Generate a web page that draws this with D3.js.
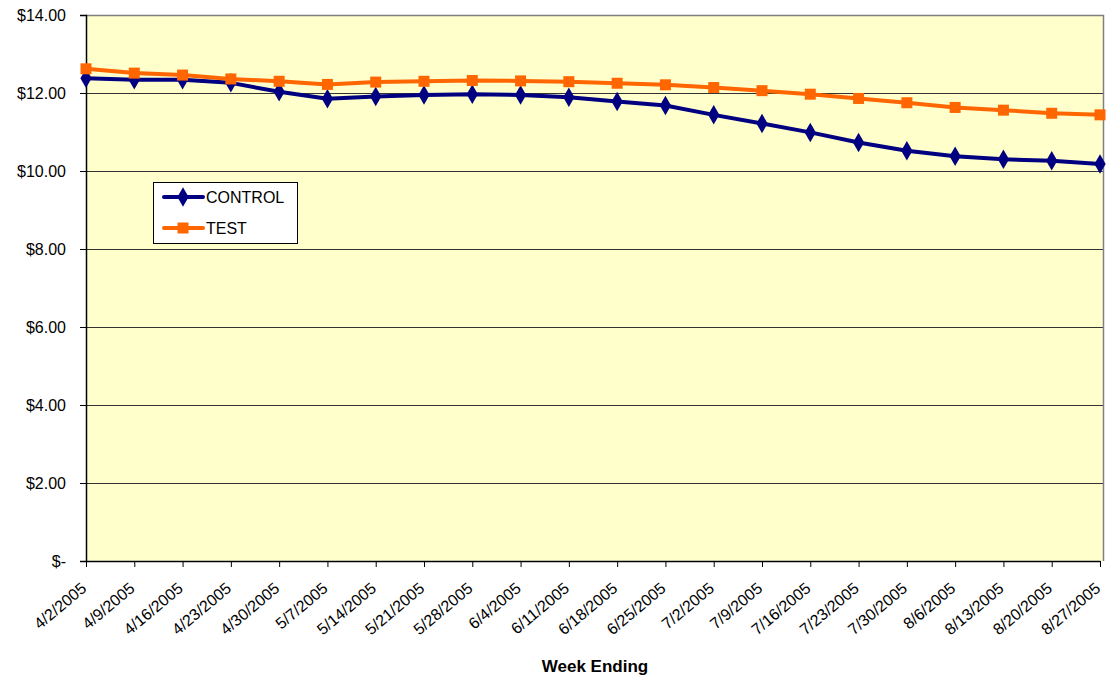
<!DOCTYPE html>
<html><head><meta charset="utf-8">
<script src="https://cdn.jsdelivr.net/npm/d3@7"></script>
<style>body{margin:0;background:#fff}svg{display:block}text{font-family:"Liberation Sans",Arial,sans-serif}</style>
</head><body><svg id="c" width="1111" height="688"></svg>
<script>
const weeks = ["4/2/2005","4/9/2005","4/16/2005","4/23/2005","4/30/2005","5/7/2005","5/14/2005","5/21/2005","5/28/2005","6/4/2005","6/11/2005","6/18/2005","6/25/2005","7/2/2005","7/9/2005","7/16/2005","7/23/2005","7/30/2005","8/6/2005","8/13/2005","8/20/2005","8/27/2005"];
const control = [12.38,12.34,12.34,12.26,12.03,11.85,11.91,11.95,11.97,11.95,11.89,11.78,11.68,11.44,11.22,10.99,10.73,10.52,10.38,10.30,10.26,10.18];
const test = [12.62,12.51,12.46,12.36,12.30,12.22,12.28,12.30,12.32,12.31,12.29,12.25,12.21,12.14,12.06,11.97,11.86,11.75,11.63,11.56,11.48,11.44];
const yTicks = [0,2,4,6,8,10,12,14];
const seriesNames = ["CONTROL","TEST"];

const svg = d3.select("#c");
const L=86, R=1100, T=15, B=561;
const x = d3.scalePoint().domain(weeks).range([L,R]);
const y = d3.scaleLinear().domain([0,14]).range([B,T]);

// plot area
svg.append("rect").attr("x",L).attr("y",T).attr("width",1103-L).attr("height",B-T).attr("fill","#FFFFCC");
// gridlines
svg.append("g").selectAll("line").data(yTicks.filter(d=>d>0&&d<14)).join("line")
  .attr("x1",L).attr("x2",1103).attr("y1",d=>y(d)+0.5).attr("y2",d=>y(d)+0.5)
  .attr("stroke","#333").attr("stroke-width",1);
// borders top/right
svg.append("path").attr("d",`M${L},${T+0.5}H1103.5V${B}`).attr("fill","none").attr("stroke","#808080").attr("stroke-width",1.5);

// y axis
const fmt = d => d===0 ? "$-" : "$"+d.toFixed(2);
const ya = svg.append("g").attr("transform",`translate(${L},0)`)
  .call(d3.axisLeft(y).tickValues(yTicks).tickFormat(fmt).tickSize(6).tickPadding(14));
ya.select(".domain").attr("stroke","#000").attr("stroke-width",1.5);
ya.selectAll("text").attr("font-size",16).attr("fill","#000").attr("dy","0.35em");
ya.selectAll("line").attr("stroke","#000");

// x axis
const xa = svg.append("g").attr("transform",`translate(0,${B})`)
  .call(d3.axisBottom(x).tickSize(6).tickSizeOuter(0));
xa.select(".domain").attr("stroke","#000").attr("stroke-width",1.5);
xa.selectAll("line").attr("stroke","#000");
xa.selectAll("text").attr("font-size",16).attr("fill","#000")
  .attr("text-anchor","end").attr("dy",null).attr("y",0)
  .attr("transform","translate(1,29) rotate(-40)");

svg.append("text").attr("x",595).attr("y",672).attr("text-anchor","middle")
  .attr("font-size",17).attr("font-weight","bold").text("Week Ending");

const line = d3.line().x((d,i)=>x(weeks[i])).y(d=>y(d));
const colors = ["#000080","#FF6600"];
[control,test].forEach((s,k)=>{
  svg.append("path").datum(s).attr("d",line).attr("fill","none")
    .attr("stroke",colors[k]).attr("stroke-width",4).attr("stroke-linejoin","round");
});
const diamond = d3.symbol().type(d3.symbolDiamond).size(110);
svg.append("g").selectAll("path").data(control).join("path")
  .attr("transform",(d,i)=>`translate(${x(weeks[i])},${y(d)})`).attr("d",diamond()).attr("fill",colors[0]);
svg.append("g").selectAll("rect").data(test).join("rect")
  .attr("x",(d,i)=>x(weeks[i])-5.5).attr("y",d=>y(d)-5.5).attr("width",11).attr("height",11).attr("fill",colors[1]);

// legend
const lg = svg.append("g");
lg.append("rect").attr("x",153.5).attr("y",182.5).attr("width",144).attr("height",61).attr("fill","#fff").attr("stroke","#000");
seriesNames.forEach((n,k)=>{
  const yy = 197 + k*31;
  lg.append("line").attr("x1",164).attr("x2",203).attr("y1",yy).attr("y2",yy).attr("stroke",colors[k]).attr("stroke-width",4).attr("stroke-linecap","round");
  if(k===0) lg.append("path").attr("transform",`translate(183,${yy})`).attr("d",diamond()).attr("fill",colors[0]);
  else lg.append("rect").attr("x",177.5).attr("y",yy-5.5).attr("width",11).attr("height",11).attr("fill",colors[1]);
  lg.append("text").attr("x",206).attr("y",yy+5.5).attr("font-size",16).text(n);
});
</script></body></html>
